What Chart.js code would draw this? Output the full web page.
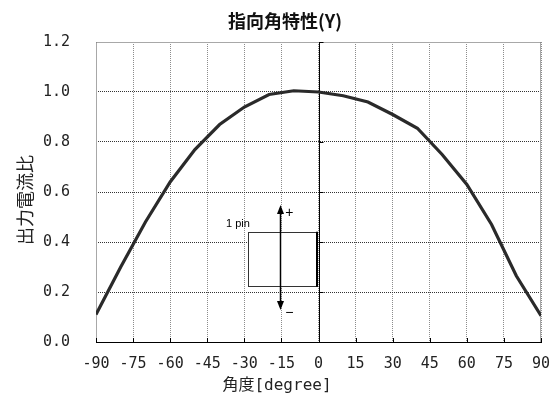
<!DOCTYPE html>
<html><head><meta charset="utf-8">
<script src="https://cdn.jsdelivr.net/npm/chart.js@4/dist/chart.umd.min.js"></script>
<style>html,body{margin:0;padding:0;background:#fff}</style>
</head><body>
<canvas id="c" width="558" height="399"></canvas>
<script>
// ---- data ----
const angles = [-90,-80,-70,-60,-50,-40,-30,-20,-10,0,10,20,30,40,50,60,70,80,90];
const ratio  = [0.11,0.30,0.48,0.64,0.77,0.87,0.94,0.99,1.005,1.0,0.985,0.96,0.91,0.855,0.75,0.63,0.47,0.265,0.105];
const xTickValues = [-90,-75,-60,-45,-30,-15,0,15,30,45,60,75,90];
const yTickValues = [0,0.2,0.4,0.6,0.8,1.0,1.2];
const chartTitle = '指向角特性(Y)';
const xAxisTitle = '角度[degree]';
const yAxisTitle = '出力電流比';
const insetLabel = '1 pin';

const monoFont = '"DejaVu Sans Mono", "Noto Sans CJK JP", monospace';

const decor = {
  id: 'decor',
  beforeDatasetsDraw(chart) {
    const {ctx, chartArea: a, scales: {x, y}} = chart;
    ctx.save();
    // frame top/left/right
    ctx.strokeStyle = '#a8a8a8'; ctx.lineWidth = 1;
    ctx.beginPath();
    ctx.moveTo(a.left + 0.5, a.bottom); ctx.lineTo(a.left + 0.5, a.top + 0.5);
    ctx.lineTo(a.right - 0.5, a.top + 0.5); ctx.lineTo(a.right - 0.5, a.bottom);
    ctx.stroke();
    // zero vertical axis line
    const x0 = Math.round(x.getPixelForValue(0)) + 0.5;
    ctx.strokeStyle = '#000';
    ctx.beginPath(); ctx.moveTo(x0, a.top); ctx.lineTo(x0, a.bottom); ctx.stroke();
    // y ticks on zero line
    ctx.beginPath();
    yTickValues.forEach(v => { const py = Math.round(y.getPixelForValue(v)) + 0.5; ctx.moveTo(x0, py); ctx.lineTo(x0 + 4, py); });
    ctx.stroke();
    // x ticks on bottom axis (inward)
    ctx.beginPath();
    xTickValues.forEach(v => { const px = Math.round(x.getPixelForValue(v)) + 0.5; ctx.moveTo(px, a.bottom); ctx.lineTo(px, a.bottom - 4); });
    ctx.stroke();

    // inset diagram (package sketch)
    const rx1 = x.getPixelForValue(-28.6), rx2 = x.getPixelForValue(-0.5);
    const ry1 = y.getPixelForValue(0.441), ry2 = y.getPixelForValue(0.225);
    ctx.fillStyle = '#fff';
    ctx.fillRect(rx1, ry1, rx2 - rx1, ry2 - ry1);
    ctx.strokeStyle = '#333'; ctx.lineWidth = 1;
    ctx.strokeRect(Math.round(rx1) + 0.5, Math.round(ry1) + 0.5, Math.round(rx2 - rx1), Math.round(ry2 - ry1));
    ctx.lineWidth = 2; ctx.strokeStyle = '#000';
    ctx.beginPath(); ctx.moveTo(Math.round(rx2), ry1); ctx.lineTo(Math.round(rx2), ry2 + 1); ctx.stroke();
    // arrow
    const ax = Math.round(x.getPixelForValue(-15.6)) + 0.5;
    const at = y.getPixelForValue(0.548), ab = y.getPixelForValue(0.128);
    ctx.lineWidth = 1.5; ctx.strokeStyle = '#000'; ctx.fillStyle = '#000';
    ctx.beginPath(); ctx.moveTo(ax, at + 6); ctx.lineTo(ax, ab - 6); ctx.stroke();
    ctx.beginPath(); ctx.moveTo(ax, at); ctx.lineTo(ax - 3.5, at + 9); ctx.lineTo(ax + 3.5, at + 9); ctx.closePath(); ctx.fill();
    ctx.beginPath(); ctx.moveTo(ax, ab); ctx.lineTo(ax - 3.5, ab - 9); ctx.lineTo(ax + 3.5, ab - 9); ctx.closePath(); ctx.fill();
    ctx.font = '14px "Liberation Sans", Arial, sans-serif';
    ctx.textAlign = 'center'; ctx.textBaseline = 'middle';
    ctx.fillText('+', x.getPixelForValue(-11.8), y.getPixelForValue(0.515));
    ctx.fillText('\u2212', x.getPixelForValue(-11.8), y.getPixelForValue(0.117));
    ctx.font = '11px "Liberation Sans", Arial, sans-serif';
    ctx.fillText(insetLabel, x.getPixelForValue(-32.6), y.getPixelForValue(0.472));
    ctx.restore();
  },
  afterDraw(chart) {
    const {ctx} = chart;
    ctx.save();
    ctx.textAlign = 'center'; ctx.textBaseline = 'middle';
    // chart title
    ctx.fillStyle = '#111';
    ctx.font = 'bold 18px "Noto Sans CJK JP", sans-serif';
    ctx.fillText(chartTitle, 285, 21);
    // x axis title
    ctx.fillStyle = '#222';
    ctx.font = '16px ' + monoFont;
    ctx.fillText(xAxisTitle, 277, 386);
    // y axis title
    ctx.translate(25, 200);
    ctx.rotate(-Math.PI / 2);
    ctx.font = '18px "Noto Sans CJK JP", sans-serif';
    ctx.fillText(yAxisTitle, 0, 0);
    ctx.restore();
  }
};

new Chart(document.getElementById('c'), {
  type: 'line',
  data: {
    datasets: [{
      data: angles.map((a, i) => ({x: a, y: ratio[i]})),
      borderColor: '#2a2a2a',
      borderWidth: 3.2,
      pointRadius: 0,
      tension: 0,
      fill: false
    }]
  },
  options: {
    responsive: false,
    animation: false,
    devicePixelRatio: 1,
    layout: {padding: {left: 0, right: 17, top: 42, bottom: 0}},
    plugins: {
      legend: {display: false},
      tooltip: {enabled: false},
      title: {display: false}
    },
    scales: {
      x: {
        type: 'linear', min: -90, max: 90,
        afterBuildTicks: s => { s.ticks = xTickValues.map(v => ({value: v})); },
        afterFit: s => { s.height = 57; s.paddingRight = 0; s.paddingLeft = 0; },
        grid: {color: '#8c8c8c', drawTicks: false},
        border: {display: true, color: '#000', width: 1, dash: [1, 1]},
        ticks: {color: '#222', font: {family: monoFont, size: 15}, padding: 13, maxRotation: 0, autoSkip: false}
      },
      y: {
        min: 0, max: 1.2,
        afterBuildTicks: s => { s.ticks = yTickValues.map(v => ({value: v})); },
        afterFit: s => { s.width = 96; s.paddingTop = 0; s.paddingBottom = 0; },
        grid: {color: '#333', drawTicks: false},
        border: {display: false, dash: [1, 1]},
        ticks: {color: '#222', font: {family: monoFont, size: 15}, padding: 26, callback: v => Number(v).toFixed(1)}
      }
    }
  },
  plugins: [decor]
});
</script>
</body></html>
